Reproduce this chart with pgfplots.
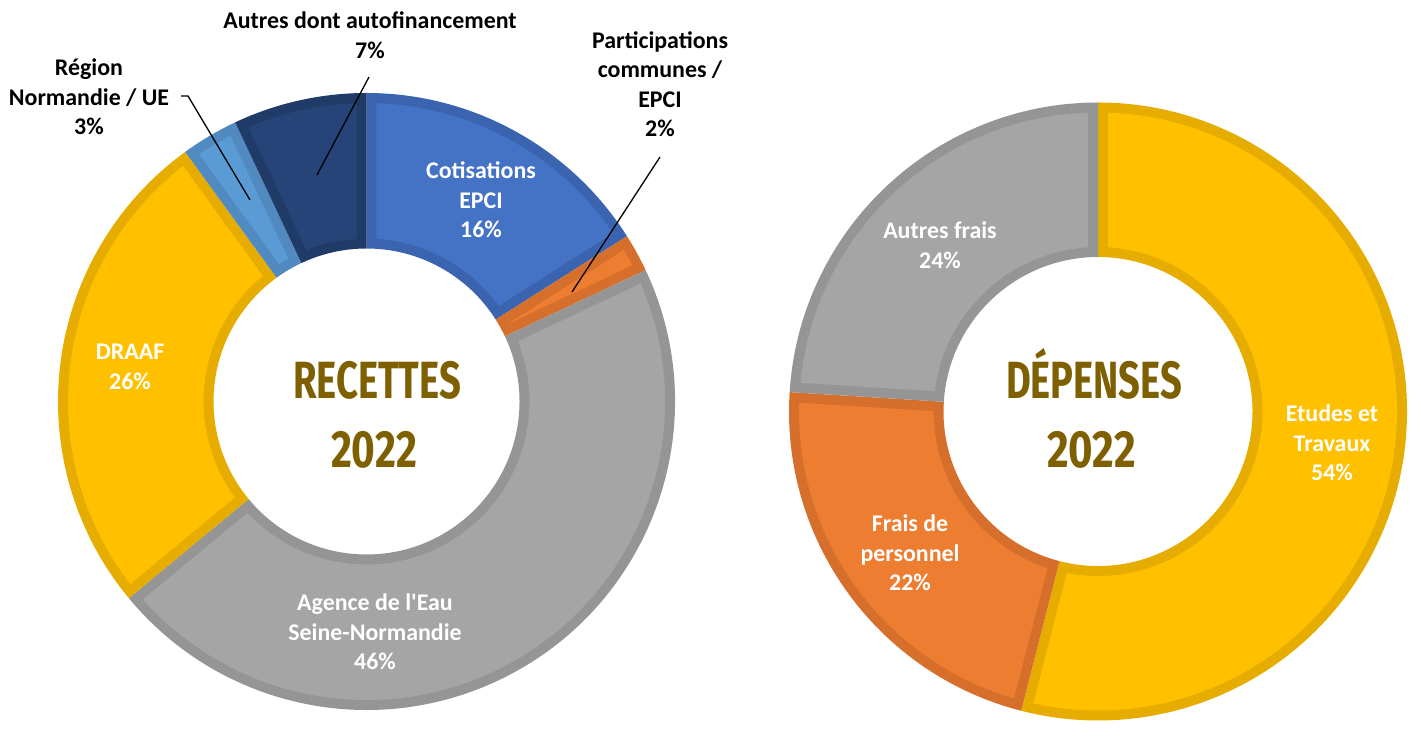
\documentclass[border=0pt]{standalone}
\usepackage{pgfplots}
\pgfplotsset{compat=1.18}
\usepackage{graphicx}
\usepackage{fontspec}
\setmainfont{Carlito}
\newfontfamily\titlefont{Fira Sans}

\definecolor{cblue}{HTML}{4472C4}\definecolor{bblue}{HTML}{3A64B0}
\definecolor{corange}{HTML}{ED7D31}\definecolor{borange}{HTML}{D56F2B}
\definecolor{cgray}{HTML}{A5A5A5}\definecolor{bgray}{HTML}{959595}
\definecolor{cyellow}{HTML}{FFC000}\definecolor{byellow}{HTML}{E6AD00}
\definecolor{clblue}{HTML}{5B9BD5}\definecolor{blblue}{HTML}{508AC0}
\definecolor{cnavy}{HTML}{264478}\definecolor{bnavy}{HTML}{213B68}
\definecolor{brown}{HTML}{7F6000}

% one ring segment: cx, cy, R, r, a1, a2, fill, border, border width
\newcommand\seg[9]{%
  \pgfmathsetmacro\Xa{#1+#3*cos(#5)}\pgfmathsetmacro\Ya{#2+#3*sin(#5)}%
  \pgfmathsetmacro\Xb{#1+#4*cos(#6)}\pgfmathsetmacro\Yb{#2+#4*sin(#6)}%
  \edef\tmp{\noexpand\fill[#8] (axis cs:\Xa,\Ya) arc[start angle=#5,end angle=#6,radius=#3] -- (axis cs:\Xb,\Yb) arc[start angle=#6,end angle=#5,radius=#4] -- cycle;}\tmp
  \pgfmathsetmacro\Ro{#3-#9}\pgfmathsetmacro\Ri{#4+#9}%
  \pgfmathsetmacro\dOut{asin(#9/\Ro)}\pgfmathsetmacro\dIn{asin(#9/\Ri)}%
  \pgfmathsetmacro\sOut{#5-\dOut}\pgfmathsetmacro\eOut{#6+\dOut}%
  \pgfmathsetmacro\Xc{#1+\Ro*cos(\sOut)}\pgfmathsetmacro\Yc{#2+\Ro*sin(\sOut)}%
  \pgfmathsetmacro\hs{(#5-#6)/2}%
  \ifdim\dIn pt<\hs pt
    \pgfmathsetmacro\sIn{#6+\dIn}\pgfmathsetmacro\eIn{#5-\dIn}%
    \pgfmathsetmacro\Xd{#1+\Ri*cos(\sIn)}\pgfmathsetmacro\Yd{#2+\Ri*sin(\sIn)}%
    \edef\tmp{\noexpand\fill[#7] (axis cs:\Xc,\Yc) arc[start angle=\sOut,end angle=\eOut,radius=\Ro] -- (axis cs:\Xd,\Yd) arc[start angle=\sIn,end angle=\eIn,radius=\Ri] -- cycle;}\tmp
  \else
    \pgfmathsetmacro\Rp{#9/sin(\hs)}\pgfmathsetmacro\am{(#5+#6)/2}%
    \pgfmathsetmacro\Xd{#1+\Rp*cos(\am)}\pgfmathsetmacro\Yd{#2+\Rp*sin(\am)}%
    \edef\tmp{\noexpand\fill[#7] (axis cs:\Xc,\Yc) arc[start angle=\sOut,end angle=\eOut,radius=\Ro] -- (axis cs:\Xd,\Yd) -- cycle;}\tmp
  \fi}

% donut: cx, cy, R, r, list of value/fill/border/borderwidth (clockwise from top)
\newcommand\donut[5]{%
  \xdef\cum{90}%
  \foreach \v/\fc/\bc/\d in {#5}{%
    \pgfmathsetmacro\aone{\cum}%
    \pgfmathsetmacro\atwo{\cum-3.6*\v}%
    \xdef\cum{\atwo}%
    \seg{#1}{#2}{#3}{#4}{\aone}{\atwo}{\fc}{\bc}{\d}%
  }}

\tikzset{lab/.style={font=\fontsize{6.8}{8.4}\selectfont\bfseries, align=center, inner sep=0pt},
  wlab/.style={lab, text=white},
  lead/.style={black, line width=0.13mm}}

\newcommand\ttl[2]{\resizebox{#1}{\height}{\fontsize{14.9}{18}\selectfont\titlefont\bfseries #2}}

\begin{document}
\begin{tikzpicture}
\begin{axis}[x=1cm, y=1cm, xmin=0, xmax=14.21, ymin=0, ymax=7.22,
  hide axis, clip=false, anchor=origin]
\path (axis cs:0,0) rectangle (axis cs:14.21,7.22);
% RECETTES 2022 (percent)
\donut{3.665}{3.205}{3.085}{1.53}{16/cblue/bblue/0.10, 2/corange/borange/0.10, 46/cgray/bgray/0.10, 26/cyellow/byellow/0.10, 3/clblue/blblue/0.10, 7/cnavy/bnavy/0.10}
% DEPENSES 2022 (percent)
\donut{10.98}{3.105}{3.09}{1.545}{54/cyellow/byellow/0.10, 22/corange/borange/0.10, 24/cgray/bgray/0.10}

% leader lines
\draw[lead] (axis cs:3.69,6.45) -- (axis cs:3.17,5.47);
\draw[lead] (axis cs:1.81,6.26) -- (axis cs:1.88,6.26) -- (axis cs:2.50,5.22);
\draw[lead] (axis cs:6.60,5.65) -- (axis cs:5.72,4.30);

% labels
\node[lab] at (axis cs:3.70,6.87) {Autres dont autofinancement\\7\%};
\node[lab] at (axis cs:0.89,6.25) {Région\\Normandie / UE\\3\%};
\node[lab] at (axis cs:6.60,6.38) {Participations\\communes /\\EPCI\\2\%};
\node[wlab] at (axis cs:4.81,5.22) {Cotisations\\EPCI\\16\%};
\node[wlab] at (axis cs:1.30,3.55) {DRAAF\\26\%};
\node[wlab] at (axis cs:3.75,0.90) {Agence de l\textquotesingle Eau\\Seine-Normandie\\46\%};
\node[wlab] at (axis cs:9.40,4.77) {Autres frais\\24\%};
\node[wlab] at (axis cs:13.32,2.79) {Etudes et\\Travaux\\54\%};
\node[wlab] at (axis cs:9.10,1.69) {Frais de\\personnel\\22\%};

% titles
\node[inner sep=0pt, anchor=base, text=brown] at (axis cs:3.77,3.23) {\ttl{16.8mm}{RECETTES}};
\node[inner sep=0pt, anchor=base, text=brown] at (axis cs:3.74,2.54) {\ttl{8.6mm}{2022}};
\node[inner sep=0pt, anchor=base, text=brown] at (axis cs:10.94,3.23) {\ttl{17.6mm}{DÉPENSES}};
\node[inner sep=0pt, anchor=base, text=brown] at (axis cs:10.915,2.54) {\ttl{8.9mm}{2022}};
\end{axis}
\end{tikzpicture}
\end{document}
